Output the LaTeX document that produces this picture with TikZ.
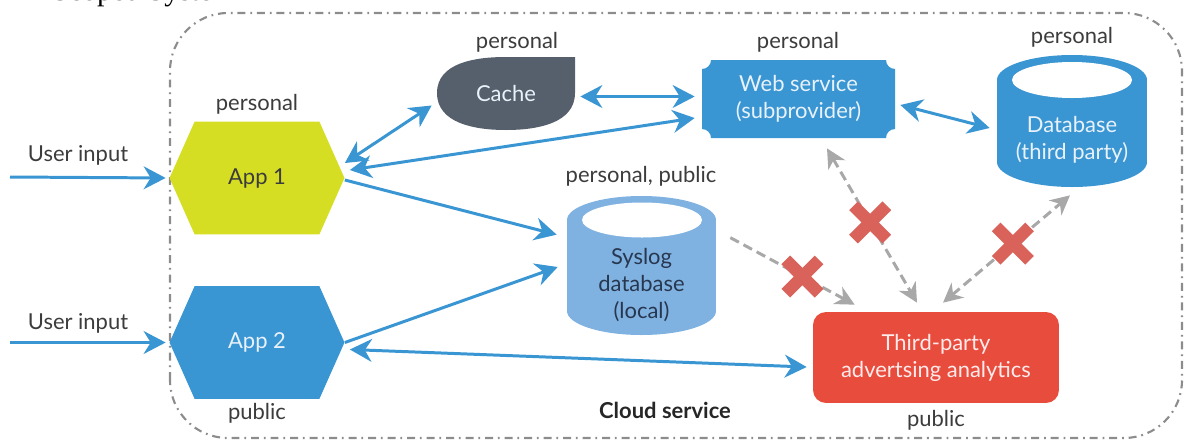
\documentclass[tikz,border=0pt]{standalone}
\usepackage{fontspec}
\setmainfont{Lato}
\newfontfamily\titlefont{Liberation Serif}
\usepackage{xcolor}
\usetikzlibrary{arrows.meta,positioning,shapes.symbols,shapes.misc}

\definecolor{applime}{RGB}{214,222,35}
\definecolor{appblue}{RGB}{58,149,211}
\definecolor{logblue}{RGB}{128,178,225}
\definecolor{cachegray}{RGB}{86,95,108}
\definecolor{adred}{RGB}{232,76,61}
\definecolor{xred}{RGB}{217,98,90}
\definecolor{dashgray}{RGB}{168,168,168}
\definecolor{cloudgray}{RGB}{140,140,140}
\definecolor{labelgray}{RGB}{60,60,60}
\definecolor{palefont}{RGB}{232,242,250}
\definecolor{logfont}{RGB}{40,55,80}

\begin{document}
\begin{tikzpicture}[x=0.02cm,y=0.02cm,font=\fontsize{12.5pt}{15.3pt}\selectfont,
    app/.style={signal, signal to=east and west, signal pointer angle=132, minimum width=3.5cm, minimum height=2.26cm, inner sep=0pt},
    holder/.style={inner sep=0pt, align=center},
    lbl/.style={text=labelgray, inner sep=1pt},
    flow/.style={draw=appblue, line width=1.7pt, -{Stealth[length=12.5pt,width=13pt,inset=4pt]}},
    biflow/.style={flow, {Stealth[length=12.5pt,width=13pt,inset=4pt]}-{Stealth[length=12.5pt,width=13pt,inset=4pt]}},
    blocked/.style={draw=dashgray, line width=1.7pt, dash pattern=on 5.5pt off 3pt, -{Stealth[length=11pt,width=11pt,inset=3.5pt]}},
    biblocked/.style={blocked, {Stealth[length=11pt,width=11pt,inset=3.5pt]}-{Stealth[length=11pt,width=11pt,inset=3.5pt]}},
    xmark/.style={cross out, draw=xred, solid, line width=7pt, minimum size=0.42cm, inner sep=0pt}]
    \useasboundingbox (0,0) rectangle (1186,441);

    % cloud border
    \draw[cloudgray, line width=1.2pt, dash pattern=on 4.5pt off 2.8pt on 1pt off 2.8pt, rounded corners=1.16cm] (170,3) rectangle (1182,428);
    \node[anchor=base west, inner sep=0pt, font=\titlefont\fontsize{17pt}{20pt}\selectfont] (title) at (52,440.5) {Scoped System};

    % shapes
    \fill[cachegray] (575,384) -- (575,348) to[out=-90,in=0] (506,311) to[out=180,in=-90] (437,348) to[out=90,in=180] (506,384) -- cycle;
    \fill[appblue] (711,381) -- (886,381) arc[start angle=180,end angle=270,radius=9] -- (895,312) arc[start angle=90,end angle=180,radius=9] -- (711,303) arc[start angle=0,end angle=90,radius=9] -- (702,372) arc[start angle=270,end angle=360,radius=9] -- cycle;
    \fill[appblue] (997,279) rectangle (1147,361);
    \fill[appblue] (1072,361) ellipse [x radius=75, y radius=25];
    \fill[appblue] (1072,279) ellipse [x radius=75, y radius=25];
    \fill[white] (1072,361) ellipse [x radius=60, y radius=18];
    \fill[logblue] (567,130) rectangle (716,221);
    \fill[logblue] (641.5,221) ellipse [x radius=74.5, y radius=24];
    \fill[logblue] (641.5,130) ellipse [x radius=74.5, y radius=24];
    \fill[white] (642,221) ellipse [x radius=60, y radius=17.5];

    \node[app, fill=applime, text=labelgray] (app1) at (257,263) {App 1};
    \node[app, fill=appblue, text=palefont] (app2) at (257,98.5) {App 2};
    \node[holder, minimum width=2.76cm, minimum height=1.46cm, text=palefont] (cache) at (506,347.5) {Cache};
    \node[holder, minimum width=3.86cm, minimum height=1.56cm, text=palefont] (web) at (798.5,342) {Web service\\(subprovider)};
    \node[holder, minimum width=3cm, minimum height=1.88cm, text=palefont] (dbase) at (1072,301) {Database\\(third party)};
    \node[holder, minimum width=2.98cm, minimum height=2cm, text=logfont] (syslog) at (641.5,156) {Syslog\\database\\(local)};
    \node[holder, fill=adred, rounded corners=0.26cm, minimum width=4.92cm, minimum height=1.82cm, text=red!8] (third) at (936,83.5) {Third-party\\advertsing analytics};

    \node[lbl] (uin1) at (78,286) {User input};
    \node[lbl] (uin2) at (78,118) {User input};
    \node[lbl] (app1tag) at (257,337) {personal};
    \node[lbl] (app2tag) at (257,28) {public};
    \node[lbl] (cachetag) at (517,399) {personal};
    \node[lbl] (webtag) at (798,399) {personal};
    \node[lbl] (dbasetag) at (1072,404) {personal};
    \node[lbl] (syslogtag) at (641,265) {personal, public};
    \node[lbl] (thirdtag) at (936,21) {public};
    \node[lbl, font=\bfseries\fontsize{12.5pt}{15.3pt}\selectfont, text=black!85] (cloud) at (665,31) {Cloud service};

    \coordinate (in1) at (10,264);
    \coordinate (in2) at (10,98.5);

    \path
        (in1) edge[flow, shorten >=2pt] (app1.west)
        (in2) edge[flow, shorten >=2pt] (app2.west)
        ([shift={(0,15)}]app1.east) edge[biflow] ([shift={(-5,-12)}]cache.west)
        ([shift={(5,8)}]app1.east) edge[biflow] ([shift={(-7,-19)}]web.west)
        ([shift={(5,-3)}]cache.east) edge[biflow] ([shift={(-7,2.5)}]web.west)
        ([shift={(5,-6)}]web.east) edge[biflow] ([shift={(-7,12)}]dbase.west)
        ([shift={(0,-2)}]app1.east) edge[flow] ([shift={(-10,0)}]syslog.north west)
        (app2.east) edge[flow] ([shift={(-9,18)}]syslog.west)
        ([shift={(5,-7)}]app2.east) edge[biflow] ([shift={(-6,-9.5)}]third.west);

    \path
        ([shift={(14,-3)}]syslog.north east) edge[blocked] node[xmark, pos=0.58] {} ([shift={(42,7)}]third.north west)
        ([shift={(28.5,-10)}]web.south) edge[biblocked] node[xmark, pos=0.48] {} ([shift={(-19,9)}]third.north)
        ([shift={(7,9)}]third.north) edge[biblocked] node[xmark, pos=0.55] {} ([shift={(-2,-8)}]dbase.south);
\end{tikzpicture}
\end{document}
